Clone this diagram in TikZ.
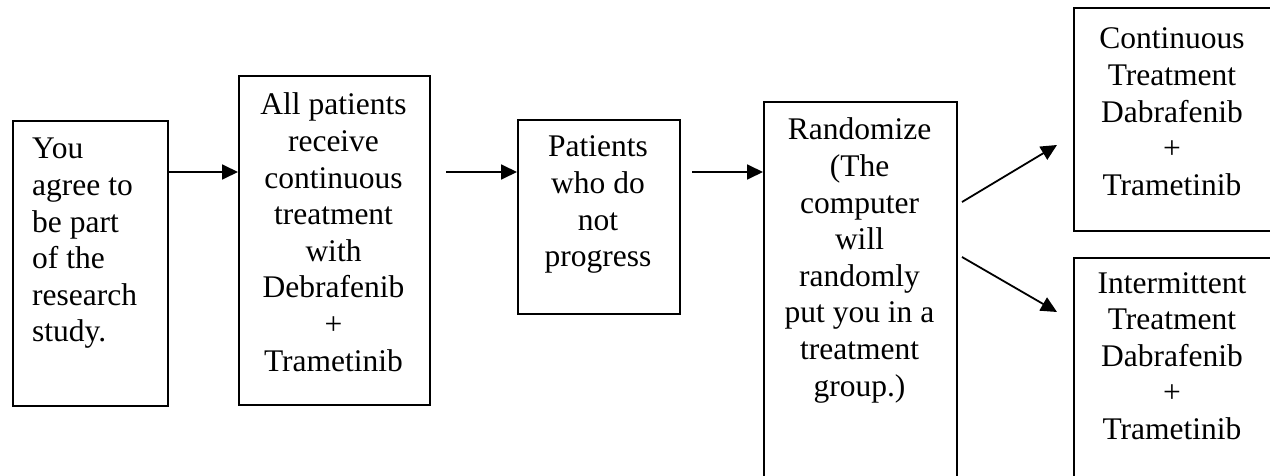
\documentclass[tikz,border=0pt]{standalone}
\usepackage{fontspec}
\setmainfont{Liberation Serif}
\usetikzlibrary{arrows.meta}
\begin{document}
\begin{tikzpicture}[x=1pt,y=-1pt,
  boxst/.style={draw=black, line width=1.8pt, rectangle, inner sep=0pt, anchor=north west},
  txt/.style={inner sep=0pt, font=\fontsize{31.5}{36.6}\selectfont},
  arr/.style={line width=1.8pt, -{Triangle[length=16pt,width=15pt]}}]
\useasboundingbox (0,0) rectangle (1270,476);
\begin{scope}
\clip (0,0) rectangle (1270,476);
\node[boxst, minimum width=155pt, minimum height=285pt] (b1) at (12,120) {};
\node[boxst, minimum width=191pt, minimum height=329pt] (b2) at (238,75) {};
\node[boxst, minimum width=162pt, minimum height=194pt] (b3) at (517,119) {};
\node[boxst, minimum width=193pt, minimum height=389pt] (b4) at (763,101) {};
\node[boxst, minimum width=210pt, minimum height=223pt] (b5) at (1073,7) {};
\node[boxst, minimum width=210pt, minimum height=233pt] (b6) at (1073,257) {};
\end{scope}
\node[txt, anchor=base west] (t1) at (32,159) {\parbox[t]{130pt}{\raggedright You\\agree to\\be part\\of the\\research\\study.}};
\node[txt, anchor=base] (t2) at (333.5,115) {\parbox[t]{220pt}{\centering All patients\\receive\\continuous\\treatment\\with\\Debrafenib\\+\\Trametinib}};
\node[txt, anchor=base] (t3) at (598,157) {\parbox[t]{200pt}{\centering Patients\\who do\\not\\progress}};
\node[txt, anchor=base] (t4) at (859.5,140) {\parbox[t]{220pt}{\centering Randomize\\(The\\computer\\will\\randomly\\put you in a\\treatment\\group.)}};
\node[txt, anchor=base] (t5) at (1172,49) {\parbox[t]{220pt}{\centering Continuous\\Treatment\\Dabrafenib\\+\\Trametinib}};
\node[txt, anchor=base] (t6) at (1172,293) {\parbox[t]{220pt}{\centering Intermittent\\Treatment\\Dabrafenib\\+\\Trametinib}};
\coordinate (a2s) at (446,172);
\coordinate (a3s) at (692,172);
\coordinate (d1s) at (962,202);
\coordinate (d1e) at (1057,145);
\coordinate (d2s) at (962,257);
\coordinate (d2e) at (1057,312);
\draw[arr] (b1.east |- a2s) -- (b2.west |- a2s);
\draw[arr] (a2s) -- (a2s -| b3.west);
\draw[arr] (a3s) -- (a3s -| b4.west);
\draw[arr] (d1s) -- (d1e);
\draw[arr] (d2s) -- (d2e);
\end{tikzpicture}
\end{document}
